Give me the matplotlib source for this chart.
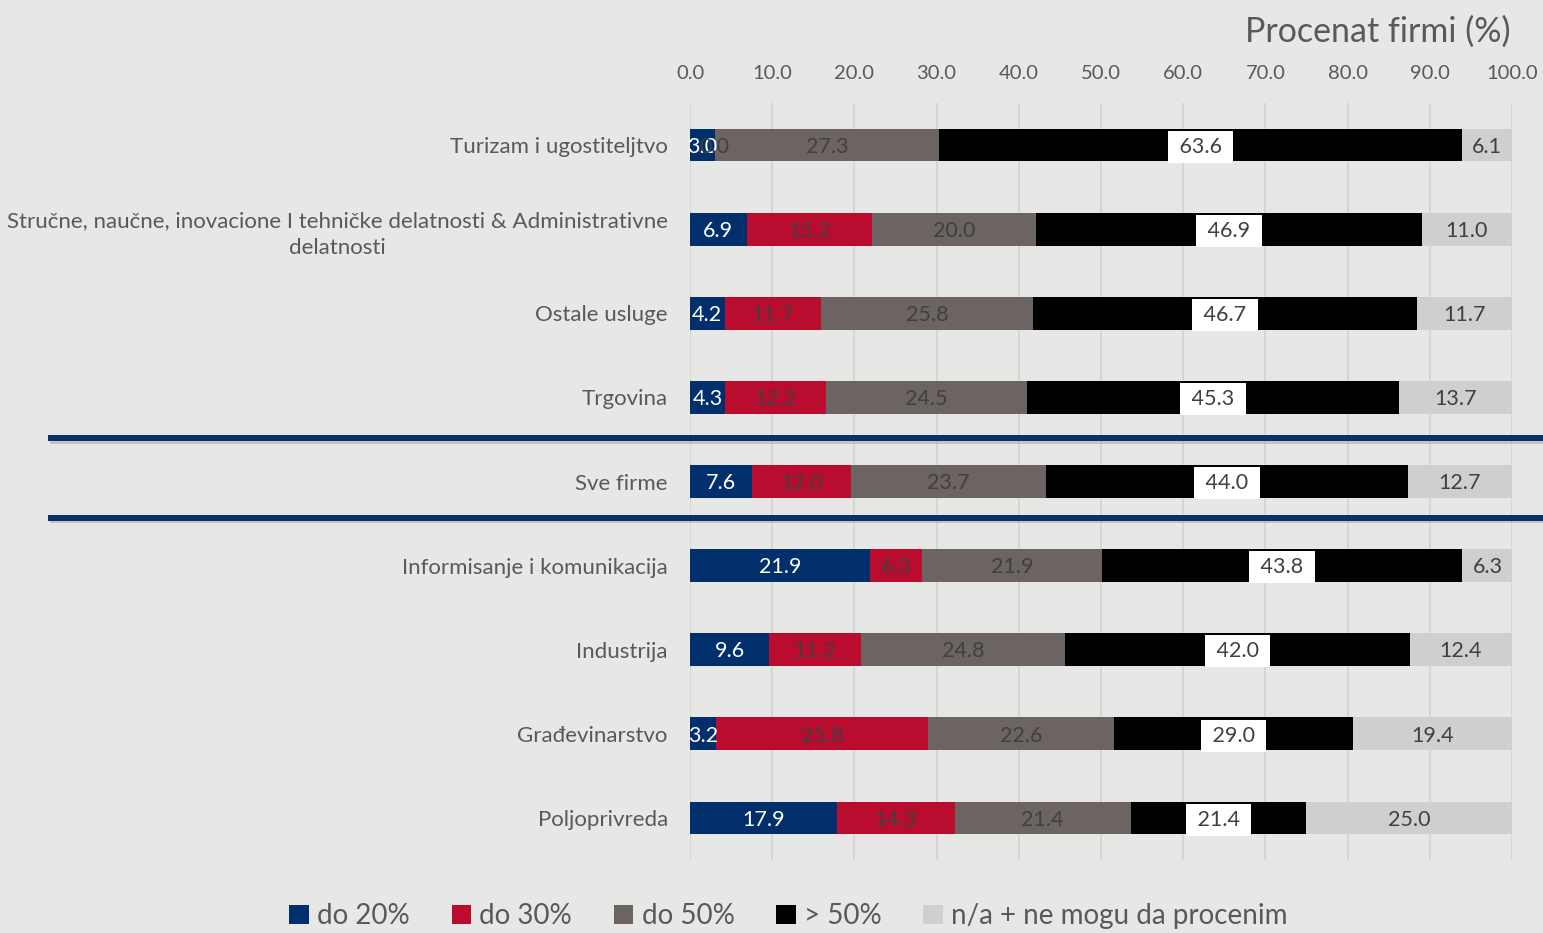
import matplotlib.pyplot as plt
import matplotlib.transforms as mtransforms
import matplotlib.patheffects as pe
import numpy as np

plt.rcParams['font.family'] = ['Lato', 'DejaVu Sans']

# Data (share of firms, %)
categories = [
    "Turizam i ugostiteljtvo",
    "Stručne, naučne, inovacione I tehničke delatnosti & Administrativne\ndelatnosti",
    "Ostale usluge",
    "Trgovina",
    "Sve firme",
    "Informisanje i komunikacija",
    "Industrija",
    "Građevinarstvo",
    "Poljoprivreda",
]
do_20 = [3.0, 6.9, 4.2, 4.3, 7.6, 21.9, 9.6, 3.2, 17.9]
do_30 = [0.0, 15.2, 11.7, 12.2, 12.0, 6.3, 11.2, 25.8, 14.3]
do_50 = [27.3, 20.0, 25.8, 24.5, 23.7, 21.9, 24.8, 22.6, 21.4]
preko_50 = [63.6, 46.9, 46.7, 45.3, 44.0, 43.8, 42.0, 29.0, 21.4]
na = [6.1, 11.0, 11.7, 13.7, 12.7, 6.3, 12.4, 19.4, 25.0]

series_names = ["do 20%", "do 30%", "do 50%", "> 50%", "n/a + ne mogu da procenim"]
series = [do_20, do_30, do_50, preko_50, na]
colors = ["#002F6C", "#BA0C2F", "#6C6463", "#000000", "#D0CFCD"]
label_colors = ["white", "#404040", "#404040", "#404040", "#404040"]

BG = "#E7E7E5"
TEXT = "#595959"

fig = plt.figure(figsize=(15.43, 9.33), dpi=100, facecolor=BG)
ax = fig.add_axes([0.4472, 0.0782, 0.5327, 0.8114], facecolor=BG)

y = np.arange(len(categories))
left = np.zeros(len(categories))
for name, vals, col, lcol in zip(series_names, series, colors, label_colors):
    vals = np.array(vals)
    ax.barh(y, vals, left=left, height=0.39, color=col, label=name,
            edgecolor="none", zorder=3)
    for yi, l, v in zip(y, left, vals):
        cx = l + v / 2
        if col == "#000000":
            ax.text(cx, yi + 0.02, f" {v:.1f} ", ha="center", va="center", fontsize=15.5,
                    color=lcol, zorder=5,
                    bbox=dict(boxstyle="square,pad=0.28", fc="white", ec="none"))
        else:
            ax.text(cx, yi + 0.02, f"{v:.1f}", ha="center", va="center", fontsize=15.5,
                    color=lcol, zorder=5)
    left = left + vals

ax.set_xlim(0, 100)
ax.set_ylim(8.5, -0.5)
ax.set_xticks(np.arange(0, 101, 10))
ax.set_xticklabels([f"{t:.1f}" for t in np.arange(0, 101, 10)])
ax.xaxis.tick_top()
ax.tick_params(axis="x", length=0, pad=15, labelsize=14.5, labelcolor=TEXT)
ax.tick_params(axis="y", length=0, pad=16, labelsize=16, labelcolor=TEXT)
ax.set_yticks(y)
ax.set_yticklabels(categories, ha="right", multialignment="center", linespacing=1.45)
ax.grid(axis="x", color="#D3D3D1", lw=1.2, zorder=0)
for s in ax.spines.values():
    s.set_visible(False)

# separator lines around "Sve firme"
trans = mtransforms.blended_transform_factory(fig.transFigure, ax.transData)
for ysep in [3.48, 4.43]:
    ax.plot([0.031, 1.0], [ysep, ysep], transform=trans, color="#0B2F6B", lw=4.3,
            clip_on=False, zorder=6, solid_capstyle="butt",
            path_effects=[pe.SimpleLineShadow(offset=(1.5, -2), shadow_color="gray", alpha=0.35),
                          pe.Normal()])

fig.text(0.979, 0.966, "Procenat firmi (%)", ha="right", va="center", fontsize=24.5, color=TEXT)

handles, labels = ax.get_legend_handles_labels()
fig.legend(handles, labels, loc="center", bbox_to_anchor=(0.511, 0.018), ncol=5,
           frameon=False, fontsize=20, labelcolor=TEXT, handlelength=0.7,
           handleheight=0.7, handletextpad=0.3, columnspacing=1.5)

fig.savefig("out.png", dpi=100, facecolor=BG)
